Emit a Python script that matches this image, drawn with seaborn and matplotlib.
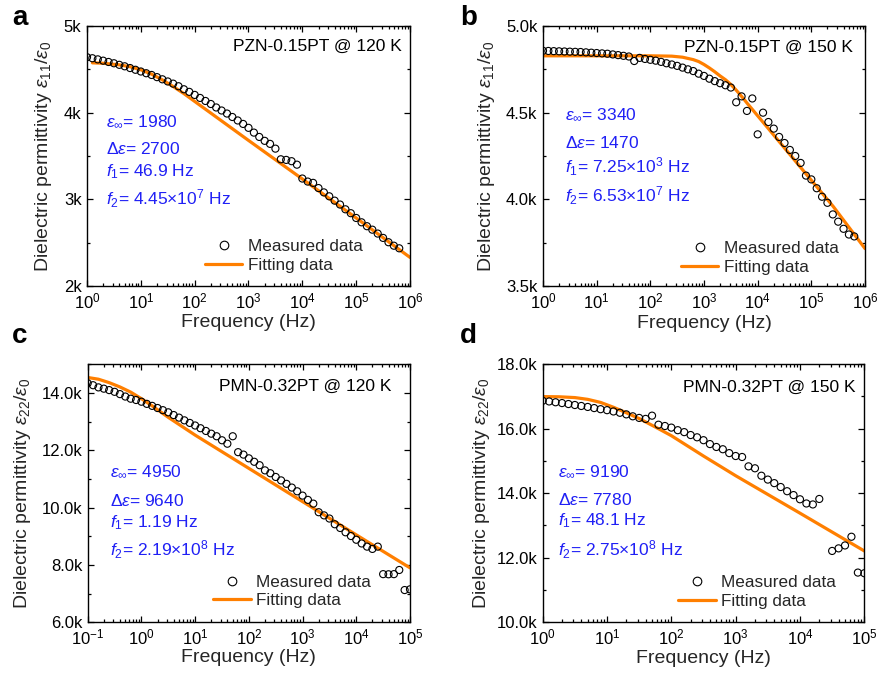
import numpy as np
import pandas as pd
import matplotlib
matplotlib.use("Agg")
import matplotlib.pyplot as plt
import seaborn as sns
from matplotlib.ticker import LogLocator, FuncFormatter, MultipleLocator, NullFormatter
from matplotlib.lines import Line2D

# ---------------- data (log10 of frequency in Hz, permittivity) ----------------
a_exp = [0.0, 0.1, 0.2, 0.3, 0.4, 0.5, 0.6, 0.7, 0.8, 0.9, 1.0, 1.1, 1.2, 1.3, 1.4, 1.5,
         1.6, 1.7, 1.8, 1.9, 2.0, 2.1, 2.2, 2.3, 2.4, 2.5, 2.6, 2.7, 2.8, 2.9, 3.0, 3.1,
         3.2, 3.3, 3.4, 3.5, 3.6, 3.7, 3.8, 3.9, 4.0, 4.1, 4.2, 4.3, 4.4, 4.5, 4.6, 4.7,
         4.8, 4.9, 5.0, 5.1, 5.2, 5.3, 5.4, 5.5, 5.6, 5.7, 5.8]
a_meas = [4640, 4628, 4615, 4600, 4585, 4570, 4552, 4535, 4515, 4495, 4475, 4455, 4435, 4410,
          4385, 4360, 4335, 4305, 4270, 4240, 4205, 4170, 4135, 4100, 4060, 4025, 3990, 3950,
          3910, 3870, 3825, 3770, 3720, 3675, 3640, 3585, 3462, 3455, 3440, 3400, 3240, 3205,
          3190, 3130, 3080, 3035, 2985, 2940, 2885, 2840, 2785, 2735, 2690, 2650, 2605, 2555,
          2505, 2465, 2435]
a_fit_exp = [0.1, 0.3, 0.6, 0.8, 1.0, 1.2, 1.4, 1.6, 1.8, 2.0, 2.4, 3.0, 4.0, 5.0, 6.0]
a_fit = [4575, 4570, 4552, 4530, 4495, 4445, 4378, 4302, 4220, 4130, 3950, 3680, 3235, 2785,
         2330]

b_exp = a_exp
b_meas = [4857, 4856, 4855, 4854, 4853, 4852, 4851, 4850, 4848, 4846, 4844, 4842, 4840, 4836,
          4832, 4828, 4824, 4798, 4816, 4810, 4805, 4800, 4793, 4785, 4778, 4770, 4760, 4750,
          4740, 4725, 4712, 4696, 4682, 4670, 4658, 4645, 4560, 4594, 4510, 4582, 4375, 4500,
          4446, 4408, 4360, 4325, 4285, 4250, 4210, 4137, 4115, 4064, 4015, 3980, 3913, 3871,
          3830, 3797, 3786]
b_fit_exp = [0.0, 1.0, 2.0, 2.4, 2.6, 2.8, 2.9, 3.0, 3.1, 3.2, 3.3, 3.4, 3.5, 3.6, 3.7, 3.8,
             4.17, 4.79, 5.41, 6.0]
b_fit = [4828, 4828, 4828, 4826, 4820, 4806, 4795, 4778, 4758, 4736, 4712, 4690, 4663, 4630,
         4594, 4556, 4419, 4188, 3958, 3716]

c_exp = [-1.0, -0.9, -0.8, -0.7, -0.6, -0.5, -0.4, -0.3, -0.2, -0.1, 0.0, 0.1, 0.2, 0.3, 0.4,
         0.5, 0.6, 0.7, 0.8, 0.9, 1.0, 1.1, 1.2, 1.3, 1.4, 1.5, 1.6, 1.7, 1.8, 1.9, 2.0, 2.1,
         2.2, 2.3, 2.4, 2.5, 2.6, 2.7, 2.8, 2.9, 3.0, 3.1, 3.2, 3.3, 3.4, 3.5, 3.6, 3.7, 3.8,
         3.9, 4.0, 4.1, 4.2, 4.3, 4.4, 4.5, 4.6, 4.7, 4.8, 4.9, 5.0]
c_meas = [14340, 14270, 14195, 14150, 14100, 14040, 13960, 13875, 13800, 13755, 13695, 13620,
          13550, 13475, 13400, 13325, 13230, 13140, 13045, 12955, 12865, 12770, 12675, 12580,
          12490, 12350, 12230, 12490, 11935, 11850, 11720, 11600, 11480, 11300, 11200, 11070,
          10950, 10830, 10700, 10570, 10420, 10270, 10140, 9840, 9730, 9620, 9420, 9290, 9140,
          9010, 8880, 8750, 8640, 8560, 8640, 7680, 7675, 7680, 7825, 7125, 7150]
c_fit_exp = [-1.0, -0.8, -0.6, -0.4, -0.2, 0.0, 0.2, 0.5, 1.0, 2.0, 3.0, 4.0, 5.0]
c_fit = [14540, 14480, 14360, 14210, 14030, 13800, 13550, 13150, 12530, 11370, 10210, 9050,
         7900]

d_exp = [0.0, 0.1, 0.2, 0.3, 0.4, 0.5, 0.6, 0.7, 0.8, 0.9, 1.0, 1.1, 1.2, 1.3, 1.4, 1.5,
         1.6, 1.7, 1.8, 1.9, 2.0, 2.1, 2.2, 2.3, 2.4, 2.5, 2.6, 2.7, 2.8, 2.9, 3.0, 3.1,
         3.2, 3.3, 3.4, 3.5, 3.6, 3.7, 3.8, 3.9, 4.0, 4.1, 4.2, 4.3, 4.5, 4.6, 4.7, 4.8,
         4.9, 5.0]
d_meas = [16860, 16840, 16815, 16790, 16760, 16730, 16700, 16670, 16635, 16600, 16570, 16530,
          16490, 16440, 16380, 16330, 16300, 16400, 16120, 16080, 16030, 15950, 15890, 15800,
          15730, 15640, 15520, 15430, 15360, 15240, 15150, 15120, 14830, 14770, 14540, 14420,
          14310, 14190, 14060, 13940, 13810, 13680, 13650, 13820, 12210, 12290, 12380, 12650,
          11540, 11520]
d_fit_exp = [0.0, 0.25, 0.5, 0.7, 0.9, 1.1, 1.3, 1.5, 1.75, 2.0, 2.5, 3.0, 4.0, 5.0]
d_fit = [16990, 16985, 16960, 16905, 16810, 16660, 16490, 16310, 16050, 15780, 15150, 14540,
         13380, 12210]

headers = ["PZN-0.15PT @ 120 K", "PZN-0.15PT @ 150 K", "PMN-0.32PT @ 120 K", "PMN-0.32PT @ 150 K"]
notes_a = [r"$\varepsilon_{\infty}$= 1980", r"$\Delta\varepsilon$= 2700", r"$f_1$= 46.9 Hz",
           r"$f_2$= 4.45$\times$10$^7$ Hz"]
notes_b = [r"$\varepsilon_{\infty}$= 3340", r"$\Delta\varepsilon$= 1470",
           r"$f_1$= 7.25$\times$10$^3$ Hz", r"$f_2$= 6.53$\times$10$^7$ Hz"]
notes_c = [r"$\varepsilon_{\infty}$= 4950", r"$\Delta\varepsilon$= 9640", r"$f_1$= 1.19 Hz",
           r"$f_2$= 2.19$\times$10$^8$ Hz"]
notes_d = [r"$\varepsilon_{\infty}$= 9190", r"$\Delta\varepsilon$= 7780", r"$f_1$= 48.1 Hz",
           r"$f_2$= 2.75$\times$10$^8$ Hz"]
ylabels = [r"Dielectric permittivity $\varepsilon_{11}/\varepsilon_0$",
           r"Dielectric permittivity $\varepsilon_{11}/\varepsilon_0$",
           r"Dielectric permittivity $\varepsilon_{22}/\varepsilon_0$",
           r"Dielectric permittivity $\varepsilon_{22}/\varepsilon_0$"]
letters = ["a", "b", "c", "d"]

# ---------------- style ----------------
sns.set_theme(style="ticks")
plt.rcParams["font.family"] = ["Liberation Sans", "DejaVu Sans"]
plt.rcParams["mathtext.fontset"] = "custom"
plt.rcParams["mathtext.rm"] = "Liberation Sans"
plt.rcParams["mathtext.it"] = "Liberation Sans:italic"
plt.rcParams["mathtext.bf"] = "Liberation Sans:bold"
plt.rcParams["axes.edgecolor"] = "black"
plt.rcParams["axes.linewidth"] = 1.0

ORANGE = "#ff7f00"
BLUE = "#2020f5"

fig = plt.figure(figsize=(8.79, 6.77), dpi=100)

W, H = 879.0, 677.0


def make_ax(l, r, t, b):
    return fig.add_axes([l / W, 1 - b / H, (r - l) / W, (b - t) / H])


axes = [make_ax(87, 410, 26, 286), make_ax(543, 865, 26, 286),
        make_ax(87.7, 410, 364.3, 622.3), make_ax(542.7, 864.3, 364, 622.3)]

cfg = [
    dict(exp=a_exp, meas=a_meas, fexp=a_fit_exp, fit=a_fit, xlim=(1, 1e6), ylim=(2000, 5000),
         major=1000, minor=500, fmt="{:.0f}k", notes=notes_a, nx=0.059,
         ny=[0.633, 0.525, 0.438, 0.335], hx=0.974, hy=0.92, lx=0.365, ly=0.115,
         ylx=-0.136, xly=-0.141),
    dict(exp=b_exp, meas=b_meas, fexp=b_fit_exp, fit=b_fit, xlim=(1, 1e6), ylim=(3500, 5000),
         major=500, minor=250, fmt="{:.1f}k", notes=notes_b, nx=0.068,
         ny=[0.658, 0.549, 0.459, 0.346], hx=0.963, hy=0.917, lx=0.428, ly=0.108,
         ylx=-0.175, xly=-0.143),
    dict(exp=c_exp, meas=c_meas, fexp=c_fit_exp, fit=c_fit, xlim=(0.1, 1e5), ylim=(6000, 15000),
         major=2000, minor=1000, fmt="{:.1f}k", notes=notes_c, nx=0.069,
         ny=[0.584, 0.471, 0.388, 0.280], hx=0.943, hy=0.913, lx=0.39, ly=0.119,
         ylx=-0.202, xly=-0.137),
    dict(exp=d_exp, meas=d_meas, fexp=d_fit_exp, fit=d_fit, xlim=(1, 1e5), ylim=(10000, 18000),
         major=2000, minor=1000, fmt="{:.1f}k", notes=notes_d, nx=0.049,
         ny=[0.583, 0.473, 0.393, 0.280], hx=0.974, hy=0.908, lx=0.422, ly=0.118,
         ylx=-0.19, xly=-0.142),
]

for i, (ax, c) in enumerate(zip(axes, cfg)):
    df = pd.DataFrame({"f": np.power(10.0, c["exp"]), "eps": c["meas"]})
    dfit = pd.DataFrame({"f": np.power(10.0, c["fexp"]), "eps": c["fit"]})
    ax.set_xscale("log")
    sns.lineplot(data=dfit, x="f", y="eps", ax=ax, color=ORANGE, lw=2.3, zorder=2,
                 legend=False)
    sns.scatterplot(data=df, x="f", y="eps", ax=ax, marker="o", s=26, facecolors="none",
                    edgecolor="black", linewidth=0.8, zorder=3, legend=False)
    ax.set_xlim(*c["xlim"])
    ax.set_ylim(*c["ylim"])
    ax.xaxis.set_major_locator(LogLocator(base=10, numticks=20))
    ax.xaxis.set_minor_locator(LogLocator(base=10, subs=np.arange(2, 10), numticks=50))
    ax.xaxis.set_minor_formatter(NullFormatter())
    ax.yaxis.set_major_locator(MultipleLocator(c["major"]))
    ax.yaxis.set_minor_locator(MultipleLocator(c["minor"]))
    fmt = c["fmt"]
    ax.yaxis.set_major_formatter(FuncFormatter(lambda v, p, fmt=fmt: fmt.format(v / 1000)))
    ax.tick_params(which="both", direction="in", top=True, right=True, colors="black",
                   labelsize=12, width=0.9)
    ax.tick_params(which="major", length=4.5, pad=4)
    ax.tick_params(which="minor", length=2.5)
    for s in ax.spines.values():
        s.set_color("black")
        s.set_linewidth(1.0)

    ax.set_xlabel("Frequency (Hz)", fontsize=14, va="center")
    ax.xaxis.set_label_coords(0.5, c["xly"])
    ax.set_ylabel(ylabels[i], fontsize=14, va="center")
    ax.yaxis.set_label_coords(c["ylx"], 0.5)

    ax.text(c["hx"], c["hy"], headers[i], transform=ax.transAxes, ha="right", va="center",
            fontsize=12.5, color="black")
    for t, yy in zip(c["notes"], c["ny"]):
        ax.text(c["nx"], yy, t, transform=ax.transAxes, ha="left", va="center",
                fontsize=12.5, color=BLUE)

    h1 = Line2D([], [], marker="o", ls="none", mfc="none", mec="black", ms=6.2, mew=0.8)
    h2 = Line2D([], [], color=ORANGE, lw=2.3)
    ax.legend([h1, h2], ["Measured data", "Fitting data"], loc="center left",
              bbox_to_anchor=(c["lx"], c["ly"]), frameon=False, fontsize=12.3,
              handlelength=2.2, handletextpad=0.3, labelspacing=0.2, borderpad=0,
              borderaxespad=0)

letter_pos = [(12, 25), (460, 25), (12, 343), (460, 343)]
for L, (x, y) in zip(letters, letter_pos):
    fig.text(x / W, 1 - y / H, L, fontsize=20, fontweight="bold", ha="left",
             va="baseline", color="black")

fig.savefig("out.png", dpi=100)
